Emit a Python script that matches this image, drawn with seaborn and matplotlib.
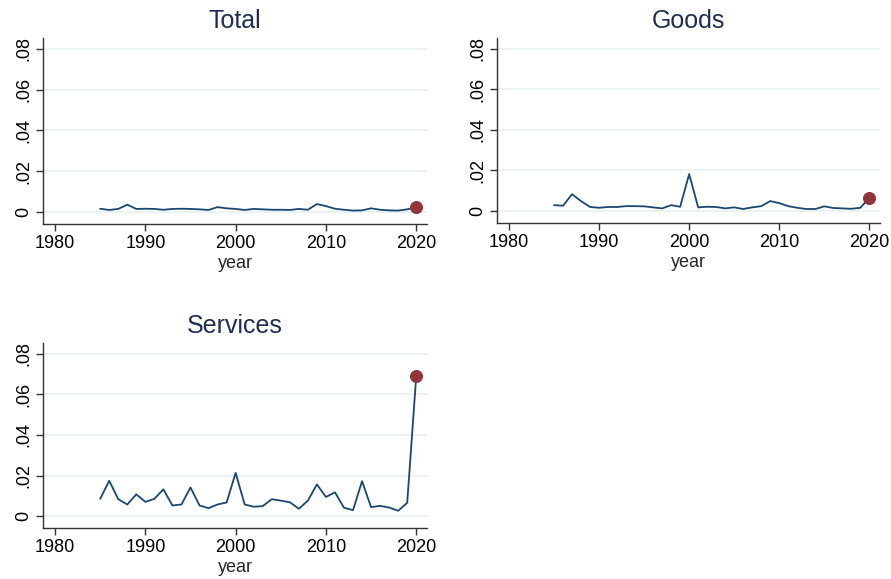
import numpy as np
import pandas as pd
import seaborn as sns
import matplotlib.pyplot as plt
from matplotlib.ticker import FuncFormatter

# Data
years = list(range(1985, 2021))
total = [0.0016, 0.0010, 0.0015, 0.0036, 0.0015, 0.0016, 0.0015, 0.0011, 0.0015, 0.0016,
         0.0015, 0.0013, 0.0010, 0.0024, 0.0018, 0.0015, 0.0010, 0.0015, 0.0013, 0.0011,
         0.0011, 0.0010, 0.0015, 0.0011, 0.0039, 0.0029, 0.0016, 0.0011, 0.0007, 0.0008,
         0.0018, 0.0011, 0.0008, 0.0007, 0.0013, 0.0023]
goods = [0.0029, 0.0026, 0.0083, 0.0049, 0.0020, 0.0016, 0.0020, 0.0020, 0.0024, 0.0024,
         0.0023, 0.0018, 0.0013, 0.0029, 0.0021, 0.0182, 0.0018, 0.0021, 0.0020, 0.0013,
         0.0018, 0.0010, 0.0018, 0.0024, 0.0049, 0.0039, 0.0024, 0.0016, 0.0010, 0.0010,
         0.0023, 0.0015, 0.0013, 0.0011, 0.0016, 0.0065]
services = [0.0085, 0.0174, 0.0083, 0.0057, 0.0107, 0.0070, 0.0085, 0.0132, 0.0052, 0.0057,
            0.0141, 0.0052, 0.0039, 0.0057, 0.0067, 0.0213, 0.0057, 0.0046, 0.0049, 0.0083,
            0.0076, 0.0068, 0.0036, 0.0076, 0.0156, 0.0094, 0.0117, 0.0041, 0.0029, 0.0172,
            0.0044, 0.0050, 0.0042, 0.0026, 0.0065, 0.0689]
panels = ["Total", "Goods", "Services"]
xticks = [1980, 1990, 2000, 2010, 2020]
yticks = [0, 0.02, 0.04, 0.06, 0.08]

df = pd.DataFrame({
    "year": years * 3,
    "value": total + goods + services,
    "panel": np.repeat(panels, len(years)),
})

sns.set_theme(style="white")
plt.rcParams["font.family"] = ["Liberation Sans", "DejaVu Sans"]

line_col = "#1a476f"
dot_col = "#90353b"
title_col = "#1e2d53"
grid_col = "#eaf2f3"

fig = plt.figure(figsize=(8.91, 5.79), dpi=100)
positions = {
    "Total": [0.0483, 0.6131, 0.431, 0.3213],
    "Goods": [0.5578, 0.6149, 0.430, 0.3195],
    "Services": [0.0483, 0.0881, 0.431, 0.3195],
}

def ylab(v, pos):
    if v == 0:
        return "0"
    return ("%.2f" % v).lstrip("0")

for name in panels:
    ax = fig.add_axes(positions[name])
    sub = df[df["panel"] == name]
    sns.lineplot(data=sub, x="year", y="value", ax=ax, color=line_col, linewidth=1.3)
    last = sub[sub["year"] == 2020]
    sns.scatterplot(data=last, x="year", y="value", ax=ax, color=dot_col, s=75,
                    edgecolor=dot_col, zorder=5)
    ax.set_xlim(1978.67, 2021.2)
    ax.set_ylim(-0.0059, 0.0854)
    ax.set_xticks(xticks)
    ax.set_yticks(yticks)
    ax.yaxis.set_major_formatter(FuncFormatter(ylab))
    for t in yticks:
        ax.axhline(t, color=grid_col, linewidth=1.5, zorder=0)
    ax.tick_params(axis="both", direction="out", length=5, width=1, color="#333333",
                   labelsize=13, labelcolor="black", left=True, bottom=True, pad=3)
    for lbl in ax.get_yticklabels():
        lbl.set_rotation(90)
        lbl.set_va("center")
    sns.despine(ax=ax)
    for s in ["left", "bottom"]:
        ax.spines[s].set_color("#333333")
        ax.spines[s].set_linewidth(1)
    ax.set_xlabel("year", fontsize=13, labelpad=2)
    ax.set_ylabel("")
    ax.set_title(name, fontsize=18, color=title_col, pad=7)

fig.savefig("out.png", dpi=100)
